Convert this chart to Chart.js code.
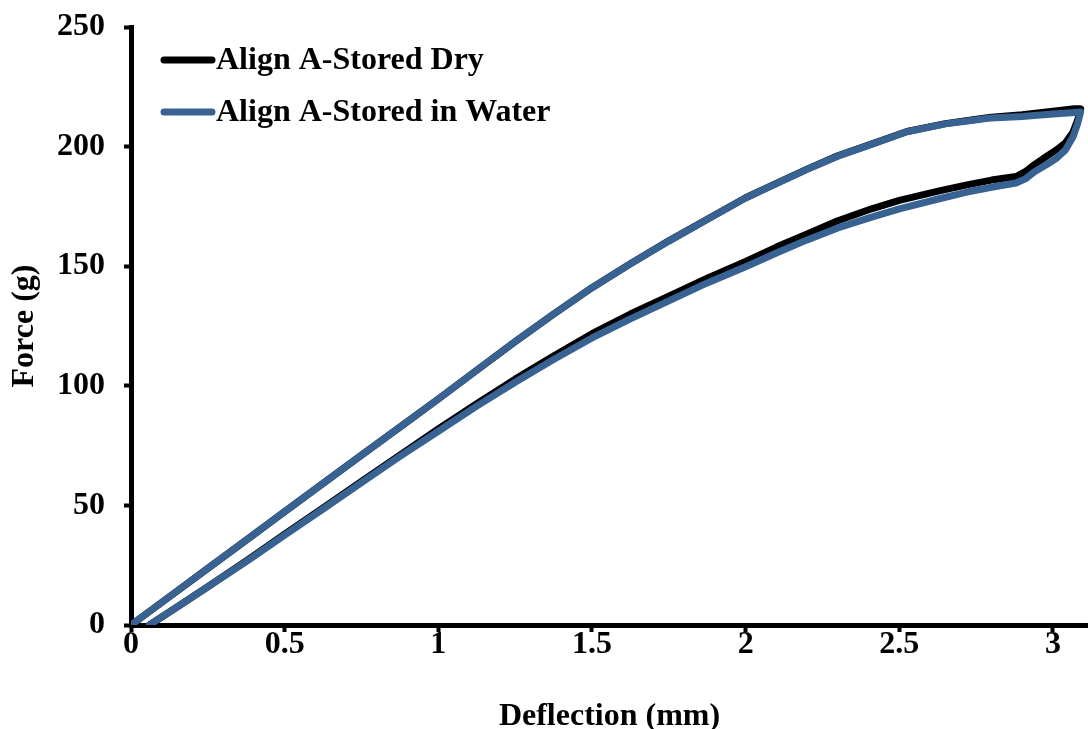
<!DOCTYPE html>
<html>
<head>
<meta charset="utf-8">
<title>Force vs Deflection</title>
<script src="https://cdn.jsdelivr.net/npm/chart.js@4.4.0/dist/chart.umd.min.js"></script>
<style>
    html, body { margin: 0; padding: 0; background: #fff; }
</style>
</head>
<body>
<canvas id="loopChart" width="1088" height="729"></canvas>
<script>
// loading branch first, then unloading branch back to the origin
const deflection = [
    0.06, 0.15, 0.25, 0.375, 0.5, 0.625, 0.75, 0.875, 1.0, 1.125, 1.25, 1.375, 1.5,
    1.625, 1.75, 1.875, 2.0, 2.1, 2.2, 2.3, 2.41, 2.5, 2.63, 2.72, 2.8, 2.88, 2.91,
    2.94, 2.98, 3.01, 3.04, 3.065, 3.08, 3.09,
    3.07, 3.0, 2.9, 2.8, 2.74, 2.65, 2.525, 2.4, 2.3, 2.2, 2.1, 2.0, 1.875, 1.75,
    1.625, 1.5, 1.375, 1.25, 1.125, 1.0, 0.875, 0.75, 0.625, 0.5, 0.375, 0.25, 0.125, 0
];
const forceDry = [
    0, 7.5, 16, 26.8, 38, 49, 60, 71, 82, 92.5, 102.8, 112.5, 121.8,
    130, 137.5, 145, 152, 158, 163.5, 169, 174, 177.5, 181.5, 184, 186, 187.5, 189.5,
    192.5, 196, 198.5, 201.5, 206, 211, 215.8,
    215.8, 214.8, 213.3, 212.3, 211.2, 209.6, 206.3, 200.6, 196.2, 190.6, 184.6, 178.6, 169.6, 160.6,
    151, 141, 130, 118.5, 106.5, 94.5, 82.7, 71, 59.2, 47.4, 35.5, 23.7, 11.8, 0
];
const forceWater = [
    0, 7.5, 16, 26.5, 37.6, 48.5, 59.5, 70.5, 81, 91.5, 101.5, 111, 120,
    128, 135.5, 143, 149.8, 155.5, 161, 166, 170.5, 174, 178.2, 181, 183, 184.8, 186.5,
    189.5, 192.5, 195, 198.5, 204, 209.5, 214.5,
    214.3, 213.6, 212.6, 212, 211, 209.5, 206.2, 200.5, 196, 190.5, 184.5, 178.5, 169.5, 160.5,
    151, 141, 130, 118.5, 106.5, 94.5, 82.7, 71, 59.2, 47.4, 35.5, 23.7, 11.8, 0
];
const seriesNames = ['Align A-Stored Dry', 'Align A-Stored in Water'];
const xTicks = [0, 0.5, 1, 1.5, 2, 2.5, 3];

const FONT = { family: "'Liberation Serif', 'Times New Roman', serif", size: 32, weight: 'bold' };
const TITLE_FONT = { family: FONT.family, size: 32, weight: 'bold', lineHeight: 1 };
const BLUE = '#386292';

function toPoints(ys) {
    return deflection.map((x, i) => ({ x: x, y: ys[i] }));
}

// legend drawn by hand so it sits inside the plot like the original
const lineLegend = {
    id: 'lineLegend',
    afterDraw(chart) {
        const ctx = chart.ctx;
        const rows = [
            { text: seriesNames[0], color: '#000', y: 60 },
            { text: seriesNames[1], color: BLUE, y: 112 }
        ];
        ctx.save();
        ctx.font = `bold ${FONT.size}px ${FONT.family}`;
        ctx.textBaseline = 'middle';
        ctx.textAlign = 'left';
        rows.forEach(r => {
            ctx.strokeStyle = r.color;
            ctx.lineWidth = 7;
            ctx.lineCap = 'round';
            ctx.beginPath();
            ctx.moveTo(164, r.y);
            ctx.lineTo(212, r.y);
            ctx.stroke();
            ctx.fillStyle = '#000';
            ctx.fillText(r.text, 216, r.y + 1);
        });
        ctx.restore();
    }
};

const config = {
    type: 'line',
    data: {
        datasets: [{
            label: seriesNames[0],
            data: toPoints(forceDry),
            borderColor: '#000',
            borderWidth: 7,
            order: 2
        }, {
            label: seriesNames[1],
            data: toPoints(forceWater),
            borderColor: BLUE,
            borderWidth: 7,
            order: 1
        }]
    },
    options: {
        responsive: false,
        animation: false,
        layout: { padding: { top: 27, right: 0, bottom: 0, left: 0 } },
        elements: {
            point: { radius: 0 },
            line: { tension: 0, borderJoinStyle: 'round', borderCapStyle: 'round', fill: false }
        },
        plugins: {
            legend: { display: false },
            tooltip: { enabled: false }
        },
        scales: {
            x: {
                type: 'linear',
                min: 0,
                max: 3.114,
                afterBuildTicks: (scale) => {
                    scale.ticks = xTicks.map(v => ({ value: v }));
                },
                afterFit: (scale) => {
                    scale.height = 104;
                    scale.paddingLeft = 0;
                    scale.paddingRight = 0;
                },
                ticks: {
                    font: FONT,
                    color: '#000',
                    padding: -6,
                    maxRotation: 0,
                    autoSkip: false,
                    callback: (v) => String(v)
                },
                grid: { drawOnChartArea: false, tickLength: 7, tickWidth: 4, color: '#000' },
                border: { display: true, width: 5, color: '#000' },
                title: {
                    display: true,
                    text: 'Deflection (mm)',
                    font: TITLE_FONT,
                    color: '#000',
                    padding: { top: 0, bottom: -4 }
                }
            },
            y: {
                min: 0,
                max: 250,
                afterFit: (scale) => {
                    scale.width = 131;
                    scale.paddingTop = 0;
                    scale.paddingBottom = 0;
                },
                ticks: {
                    stepSize: 50,
                    font: FONT,
                    color: '#000',
                    padding: 19
                },
                grid: { drawOnChartArea: false, tickLength: 7, tickWidth: 4, color: '#000' },
                border: { display: true, width: 5, color: '#000' },
                title: {
                    display: true,
                    text: 'Force (g)',
                    font: TITLE_FONT,
                    color: '#000',
                    padding: { top: 9, bottom: 6 }
                }
            }
        }
    },
    plugins: [lineLegend]
};

window.onload = function () {
    const ctx = document.getElementById('loopChart').getContext('2d');
    new Chart(ctx, config);
};
</script>
</body>
</html>
